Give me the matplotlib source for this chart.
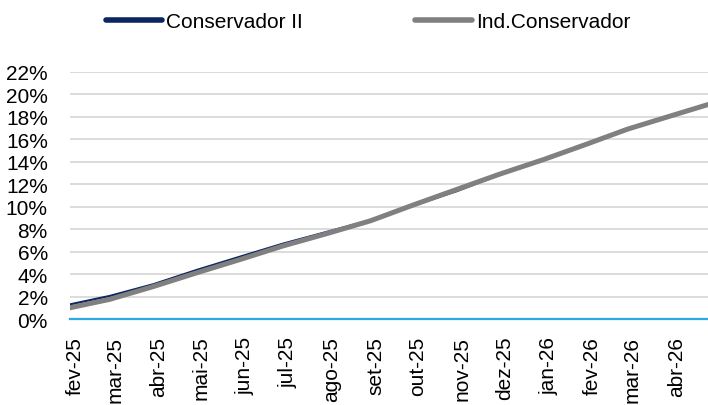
import matplotlib.pyplot as plt
import matplotlib.transforms as mtransforms
from matplotlib.lines import Line2D
import pandas as pd

plt.rcParams['font.family'] = ['Liberation Sans', 'DejaVu Sans']

# monthly readings (first day of each month) plus the last observation
dates = pd.to_datetime([
    '2025-02-01', '2025-03-01', '2025-04-01', '2025-05-01', '2025-06-01',
    '2025-07-01', '2025-08-01', '2025-09-01', '2025-10-01', '2025-11-01',
    '2025-12-01', '2026-01-01', '2026-02-01', '2026-03-01', '2026-04-01',
    '2026-04-27',
])
conservador_ii = [1.30, 2.05, 3.10, 4.35, 5.55, 6.70, 7.75, 8.80, 10.10,
                  11.40, 12.85, 14.20, 15.60, 16.90, 18.10, 19.10]
ind_conservador = [1.00, 1.75, 2.90, 4.10, 5.30, 6.50, 7.60, 8.75, 10.15,
                   11.55, 12.90, 14.20, 15.60, 16.90, 18.10, 19.10]

tick_dates = dates[:15]
tick_labels = ['fev-25', 'mar-25', 'abr-25', 'mai-25', 'jun-25', 'jul-25',
               'ago-25', 'set-25', 'out-25', 'nov-25', 'dez-25', 'jan-26',
               'fev-26', 'mar-26', 'abr-26']
y_ticks = list(range(0, 23, 2))

navy = '#0b2660'
grey = '#808080'

fig = plt.figure(figsize=(7.08, 4.06), dpi=100)
ax = fig.add_axes([70 / 708, 1 - 320 / 406, 1 - 70 / 708, (320 - 73) / 406])

ax.plot(dates, conservador_ii, color=navy, lw=1.6, zorder=3)
ax.plot(dates, ind_conservador, color=grey, lw=3.6, zorder=4)

ax.set_xlim(dates[0], dates[-1])
ax.set_ylim(0, 22)
ax.set_yticks(y_ticks)
ax.set_yticklabels([f'{v}%' for v in y_ticks])
ax.set_xticks(tick_dates)
ax.set_xticklabels(tick_labels, rotation=90)
ax.tick_params(axis='both', length=0, labelsize=15, colors='black')
ax.tick_params(axis='y', pad=16)
ax.tick_params(axis='x', pad=12)

# nudge month labels a little to the right, like the original
shift = mtransforms.ScaledTranslation(5 / 100, 0, fig.dpi_scale_trans)
for lbl in ax.get_xticklabels():
    lbl.set_transform(lbl.get_transform() + shift)

ax.grid(axis='y', color='#d9d9d9', lw=1.3)
ax.set_axisbelow(True)
for side in ['top', 'right', 'left']:
    ax.spines[side].set_visible(False)
ax.spines['bottom'].set_color('#29abe2')
ax.spines['bottom'].set_linewidth(1.6)
ax.spines['bottom'].set_zorder(5)

handles = [Line2D([], [], color=navy, lw=4, solid_capstyle='round'),
           Line2D([], [], color=grey, lw=4, solid_capstyle='round')]
fig.legend(handles, ['Conservador II', 'Ind.Conservador'], loc='center',
           bbox_to_anchor=(368 / 708, 1 - 23 / 406), ncol=2, frameon=False,
           fontsize=15, handlelength=2.7, handletextpad=0.2, columnspacing=5.4)

fig.savefig('out.png', dpi=100)
